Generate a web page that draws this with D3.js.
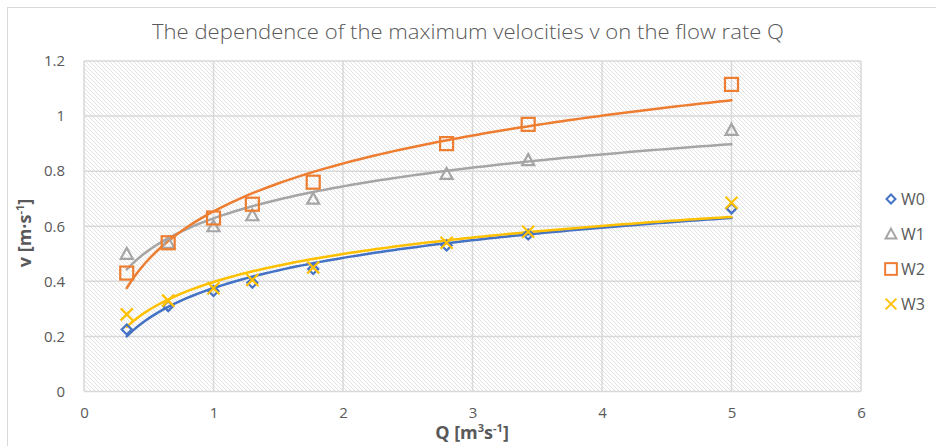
<!DOCTYPE html>
<html>
<head>
<meta charset="utf-8">
<script src="https://cdn.jsdelivr.net/npm/d3@7"></script>
<style>
  body { margin: 0; background: #fff; }
  text { font-family: "Open Sans", "Liberation Sans", sans-serif; fill: #595959; }
</style>
</head>
<body>
<div id="chart"></div>
<script>
// data
const flowRates = [0.33, 0.65, 1.0, 1.3, 1.77, 2.8, 3.43, 5.0];
const seriesNames = ["W0", "W1", "W2", "W3"];
const w0 = [0.225, 0.31, 0.365, 0.395, 0.445, 0.53, 0.57, 0.665];
const w1 = [0.50, 0.54, 0.60, 0.64, 0.70, 0.79, 0.84, 0.95];
const w2 = [0.43, 0.54, 0.63, 0.68, 0.76, 0.90, 0.97, 1.115];
const w3 = [0.28, 0.33, 0.375, 0.405, 0.45, 0.54, 0.58, 0.685];
const xTicks = [0, 1, 2, 3, 4, 5, 6];
const yTicks = [0, 0.2, 0.4, 0.6, 0.8, 1, 1.2];
const colors = ["#4472C4", "#A5A5A5", "#ED7D31", "#FFC000"];
const symbols = ["diamond", "triangle", "square", "cross"];

const W = 936, H = 446;
const plot = { left: 84, right: 861, top: 61, bottom: 391.5 };

const svg = d3.select("#chart").append("svg")
    .attr("width", W)
    .attr("height", H);

// hatched plot background
const defs = svg.append("defs");
defs.append("pattern")
    .attr("id", "hatch")
    .attr("patternUnits", "userSpaceOnUse")
    .attr("width", 4)
    .attr("height", 4)
    .append("path")
    .attr("d", "M-1,-1L5,5M3,-1L5,1M-1,3L1,5")
    .attr("stroke", "#e2e2e2")
    .attr("stroke-width", 1);

// chart frame
svg.append("rect")
    .attr("x", 7.5).attr("y", 7.5)
    .attr("width", W + 20).attr("height", H + 20)
    .attr("fill", "#fff")
    .attr("stroke", "#d9d9d9");

const x = d3.scaleLinear().domain([0, 6]).range([plot.left, plot.right]);
const y = d3.scaleLinear().domain([0, 1.2]).range([plot.bottom, plot.top]);

svg.append("rect")
    .attr("x", plot.left).attr("y", plot.top)
    .attr("width", plot.right - plot.left)
    .attr("height", plot.bottom - plot.top)
    .attr("fill", "url(#hatch)");

// grid
const grid = svg.append("g").attr("stroke", "#d9d9d9").attr("stroke-width", 1.5);
grid.selectAll(".gx").data(xTicks).enter().append("line")
    .attr("x1", d => x(d)).attr("x2", d => x(d))
    .attr("y1", plot.top).attr("y2", plot.bottom);
grid.selectAll(".gy").data(yTicks).enter().append("line")
    .attr("x1", plot.left).attr("x2", plot.right)
    .attr("y1", d => y(d)).attr("y2", d => y(d));

// axes (labels only, Excel style)
const xAxis = svg.append("g")
    .attr("transform", `translate(0,${plot.bottom + 8})`)
    .call(d3.axisBottom(x).tickValues(xTicks).tickSize(0).tickFormat(d3.format("d")));
const yAxis = svg.append("g")
    .attr("transform", `translate(${plot.left - 16},0)`)
    .call(d3.axisLeft(y).tickValues(yTicks).tickSize(0).tickFormat(d => d));
[xAxis, yAxis].forEach(a => {
    a.select(".domain").remove();
    a.selectAll("text").attr("font-size", 15).attr("fill", "#595959")
        .style("font-family", "'Open Sans', sans-serif");
});
xAxis.selectAll("text").attr("dy", "1em");

// title
svg.append("text")
    .attr("x", 468).attr("y", 39)
    .attr("text-anchor", "middle")
    .attr("font-size", 20)
    .attr("font-weight", 300)
    .attr("textLength", 632)
    .attr("lengthAdjust", "spacingAndGlyphs")
    .style("font-family", "'Open Sans', sans-serif")
    .text("The dependence of the maximum velocities v on the flow rate Q");

// axis titles
const xt = svg.append("text")
    .attr("x", 472).attr("y", 439)
    .attr("text-anchor", "middle")
    .attr("font-size", 18)
    .attr("font-weight", "bold");
xt.append("tspan").text("Q [m");
xt.append("tspan").attr("font-size", 11).attr("dy", -7).text("3");
xt.append("tspan").attr("dy", 7).text("s");
xt.append("tspan").attr("font-size", 11).attr("dy", -7).text("-1");
xt.append("tspan").attr("dy", 7).text("]");

const yt = svg.append("text")
    .attr("transform", "translate(31,233) rotate(-90)")
    .attr("text-anchor", "middle")
    .attr("font-size", 18)
    .attr("font-weight", "bold");
yt.append("tspan").text("v [m·s");
yt.append("tspan").attr("font-size", 11).attr("dy", -7).text("-1");
yt.append("tspan").attr("dy", 7).text("]");

// logarithmic trendline: v = a ln(Q) + b (least squares)
function logFit(qs, vs) {
    const lx = qs.map(Math.log);
    const mx = d3.mean(lx), my = d3.mean(vs);
    const a = d3.sum(lx, (l, i) => (l - mx) * (vs[i] - my)) / d3.sum(lx, l => (l - mx) ** 2);
    return { a: a, b: my - a * mx };
}

function marker(g, type, color) {
    if (type === "diamond") {
        g.append("path").attr("d", "M0,-5L5,0L0,5L-5,0Z")
            .attr("fill", "none").attr("stroke", color).attr("stroke-width", 2.2);
    } else if (type === "triangle") {
        g.append("path").attr("d", "M0,-6L6,5L-6,5Z")
            .attr("fill", "none").attr("stroke", color).attr("stroke-width", 2.2);
    } else if (type === "square") {
        g.append("rect").attr("x", -6.5).attr("y", -6.5).attr("width", 13).attr("height", 13)
            .attr("fill", "none").attr("stroke", color).attr("stroke-width", 2.2);
    } else {
        g.append("path").attr("d", "M-6,-6L6,6M6,-6L-6,6")
            .attr("fill", "none").attr("stroke", color).attr("stroke-width", 2.2);
    }
}

const allSeries = [w0, w1, w2, w3];
const line = d3.line().x(d => x(d[0])).y(d => y(d[1])).curve(d3.curveLinear);
const qs = d3.range(0, 101).map(i => flowRates[0] + (flowRates[flowRates.length - 1] - flowRates[0]) * i / 100);

allSeries.forEach((vals, si) => {
    const fit = logFit(flowRates, vals);
    svg.append("path")
        .datum(qs.map(q => [q, fit.a * Math.log(q) + fit.b]))
        .attr("d", line)
        .attr("fill", "none")
        .attr("stroke", colors[si])
        .attr("stroke-width", 2.5)
        .attr("stroke-linecap", "round");
});

allSeries.forEach((vals, si) => {
    svg.append("g").selectAll("g")
        .data(vals.map((v, i) => [flowRates[i], v]))
        .enter().append("g")
        .attr("transform", d => `translate(${x(d[0])},${y(d[1])})`)
        .each(function () { marker(d3.select(this), symbols[si], colors[si]); });
});

// legend
const legend = svg.append("g");
const legendY = [199, 234, 269, 304];
seriesNames.forEach((name, i) => {
    const g = legend.append("g").attr("transform", `translate(891,${legendY[i]})`);
    const m = g.append("g").attr("transform", "scale(0.9)");
    marker(m, symbols[i], colors[i]);
    g.append("text").attr("x", 10).attr("y", 6)
        .attr("font-size", 16)
        .text(name);
});
</script>
</body>
</html>
